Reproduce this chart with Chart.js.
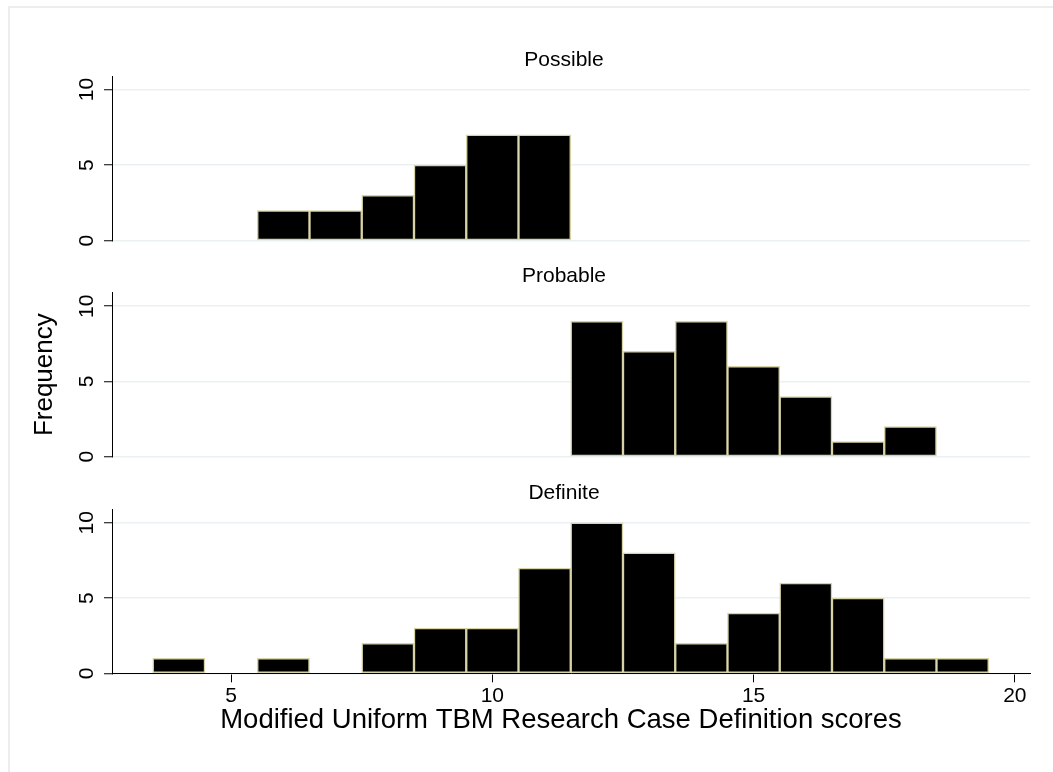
<!DOCTYPE html>
<html>
<head>
<meta charset="utf-8">
<script src="https://cdn.jsdelivr.net/npm/chart.js@4"></script>
<style>
  html, body { margin: 0; padding: 0; background: #fff; }
  body { width: 1053px; height: 772px; position: relative; overflow: hidden; }
  .frame { position: absolute; left: 8px; top: 6px; width: 1100px; height: 800px;
           border-left: 2px solid #ededed; border-top: 2px solid #ededed; }
  .panel { position: absolute; left: 0; top: 0; width: 1053px; height: 772px; }
</style>
</head>
<body>
<div class="frame"></div>
<div class="panel"><canvas id="possible_graph"></canvas></div>
<div class="panel"><canvas id="probable_graph"></canvas></div>
<div class="panel"><canvas id="definite_graph"></canvas></div>
<script>
// бины по 1 баллу, центр на целом значении
const possible_scores = [6, 7, 8, 9, 10, 11];
const possible_counts = [2, 2, 3, 5, 7, 7];
const probable_scores = [12, 13, 14, 15, 16, 17, 18];
const probable_counts = [9, 7, 9, 6, 4, 1, 2];
const definite_scores = [4, 6, 8, 9, 10, 11, 12, 13, 14, 15, 16, 17, 18, 19];
const definite_counts = [1, 1, 2, 3, 3, 7, 10, 8, 2, 4, 6, 5, 1, 1];
const x_ticks = [5, 10, 15, 20];
const y_ticks = [0, 5, 10];
const x_title = "Modified Uniform TBM Research Case Definition scores";
const y_title = "Frequency";

const FONT = "'Liberation Sans', Arial, sans-serif";

// подписи, которые Stata рисует не так, как Chart.js
const panel_text = {
  id: 'panel_text',
  afterDraw(chart, args, opts) {
    const ctx = chart.ctx;
    const area = chart.chartArea;
    const y = chart.scales.y;
    ctx.save();
    ctx.fillStyle = '#000';
    // заголовок панели
    ctx.font = '21px ' + FONT;
    ctx.textAlign = 'center';
    ctx.textBaseline = 'middle';
    ctx.fillText(opts.title, (area.left + area.right) / 2 - 7, area.top - 16);
    // повернутые подписи оси y
    y_ticks.forEach((v) => {
      ctx.save();
      ctx.translate(area.left - 19, y.getPixelForValue(v));
      ctx.rotate(-Math.PI / 2);
      ctx.textBaseline = 'alphabetic';
      ctx.fillText(String(v), 0, 0);
      ctx.restore();
    });
    if (opts.xTitle) {
      ctx.font = '27.5px ' + FONT;
      ctx.textBaseline = 'alphabetic';
      ctx.fillText(opts.xTitle, (area.left + area.right) / 2 - 10, 728);
    }
    ctx.restore();
  }
};

function make_panel(id, title, scores, counts, top, bottom, last) {
  return new Chart(document.getElementById(id), {
    type: 'bar',
    data: {
      datasets: [{
        data: scores.map((s, i) => ({x: s, y: counts[i]})),
        backgroundColor: '#000',
        borderColor: '#d8d3a6',
        borderWidth: 1.5,
        borderSkipped: false,
        barPercentage: 1,
        categoryPercentage: 1
      }]
    },
    options: {
      responsive: true,
      maintainAspectRatio: false,
      animation: false,
      events: [],
      layout: {padding: {left: 0, right: 23, top: top, bottom: bottom}},
      plugins: {
        legend: {display: false},
        tooltip: {enabled: false},
        panel_text: {title: title, xTitle: last ? x_title : null}
      },
      scales: {
        x: {
          type: 'linear',
          display: last,
          min: 2.72,
          max: 20.29,
          offset: false,
          afterBuildTicks: (s) => { s.ticks = x_ticks.map((v) => ({value: v})); },
          afterFit: (s) => { s.height = last ? 98.7 : 0; },
          grid: {offset: false, drawOnChartArea: false, drawTicks: true, tickLength: 9, tickColor: '#000'},
          border: {display: true, color: '#000', width: 1},
          ticks: {color: '#000', padding: 1, font: {family: FONT, size: 21}, maxRotation: 0}
        },
        y: {
          min: 0,
          max: 10.9,
          afterBuildTicks: (s) => { s.ticks = y_ticks.map((v) => ({value: v})); },
          afterFit: (s) => { s.width = 112; },
          grid: {color: '#e9f1f3', lineWidth: 1.5, drawTicks: true, tickLength: 8, tickColor: '#000', tickWidth: 1},
          border: {display: true, color: '#000', width: 1},
          ticks: {display: false},
          title: {
            display: id === 'probable_graph',
            text: y_title,
            color: '#000',
            font: {family: FONT, size: 26},
            padding: {top: 29.4, bottom: 0}
          }
        }
      }
    },
    plugins: [panel_text]
  });
}

let possible_graph = make_panel('possible_graph', 'Possible', possible_scores, possible_counts, 76, 531.3, false);
let probable_graph = make_panel('probable_graph', 'Probable', probable_scores, probable_counts, 292.7, 315.3, false);
let definite_graph = make_panel('definite_graph', 'Definite', definite_scores, definite_counts, 509.3, 0, true);
</script>
</body>
</html>
